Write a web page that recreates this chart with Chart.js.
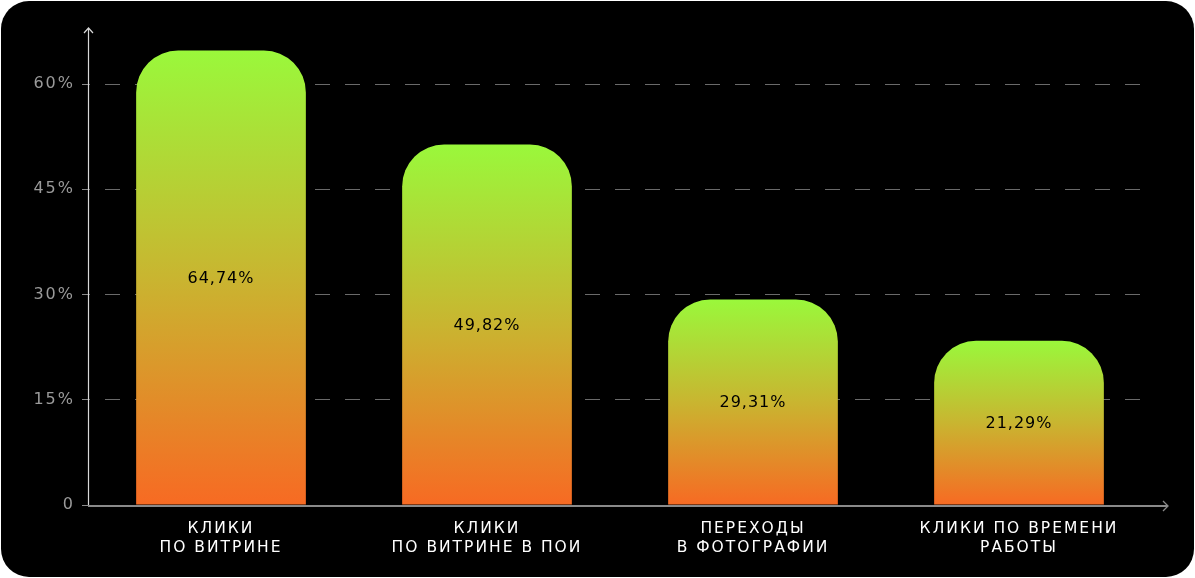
<!DOCTYPE html>
<html><head><meta charset="utf-8">
<script src="https://cdn.jsdelivr.net/npm/chart.js@4/dist/chart.umd.min.js"></script>
<style>html,body{margin:0;padding:0;background:#fff;}#wrap{width:1195px;height:578px;}</style>
</head><body><div id="wrap"><canvas id="c" width="1195" height="578"></canvas></div>
<script>
const categories = [["КЛИКИ","ПО ВИТРИНЕ"],["КЛИКИ","ПО ВИТРИНЕ В ПОИ"],["ПЕРЕХОДЫ","В ФОТОГРАФИИ"],["КЛИКИ ПО ВРЕМЕНИ","РАБОТЫ"]];
// bar heights as drawn in the picture
const values = [64.8, 51.4, 29.3, 23.4];
// value labels as printed on the bars
const valueLabels = ["64,74%", "49,82%", "29,31%", "21,29%"];
const yTicks = [0, 15, 30, 45, 60];
const yMax = 68;

const FONT = "'DejaVu Sans', sans-serif";

const bgPlugin = {
  id: 'bg',
  beforeDraw(chart) {
    const ctx = chart.ctx;
    ctx.save();
    ctx.fillStyle = '#fff';
    ctx.fillRect(0, 0, chart.width, chart.height);
    ctx.fillStyle = '#000';
    ctx.beginPath();
    ctx.roundRect(1, 1, chart.width - 2, chart.height - 2, 28);
    ctx.fill();
    ctx.restore();
    ctx.letterSpacing = '2px';
  }
};

const overlayPlugin = {
  id: 'overlay',
  afterDatasetsDraw(chart) {
    const ctx = chart.ctx;
    const area = chart.chartArea;
    const meta = chart.getDatasetMeta(0);
    ctx.save();
    ctx.letterSpacing = '1px';
    ctx.fillStyle = '#000';
    ctx.font = "16px " + FONT;
    ctx.textAlign = 'center';
    ctx.textBaseline = 'middle';
    meta.data.forEach((bar, i) => {
      ctx.fillText(valueLabels[i], bar.x, (bar.y + bar.base) / 2 + 1);
    });
    // y axis with arrow
    const x0 = area.left + 0.5;
    const yb = chart.scales.y.getPixelForValue(0);
    ctx.strokeStyle = '#d8d8d8';
    ctx.lineWidth = 1.2;
    ctx.beginPath();
    ctx.moveTo(x0, yb);
    ctx.lineTo(x0, area.top);
    ctx.moveTo(x0 - 4.5, area.top + 5);
    ctx.lineTo(x0, area.top);
    ctx.lineTo(x0 + 4.5, area.top + 5);
    ctx.stroke();
    // x axis with arrow
    const xr = area.right + 16;
    const y0 = yb + 1;
    ctx.strokeStyle = '#8a8a8a';
    ctx.lineWidth = 2;
    ctx.beginPath();
    ctx.moveTo(area.left, y0);
    ctx.lineTo(xr, y0);
    ctx.stroke();
    ctx.lineWidth = 1.3;
    ctx.beginPath();
    ctx.moveTo(xr - 5, y0 - 5);
    ctx.lineTo(xr, y0);
    ctx.lineTo(xr - 5, y0 + 5);
    ctx.stroke();
    ctx.restore();
  }
};

function barGradient(c) {
  const chart = c.chart;
  if (!chart.chartArea || c.raw === undefined) return '#c8b22f';
  const ys = chart.scales.y;
  const top = ys.getPixelForValue(c.raw);
  const bottom = ys.getPixelForValue(0);
  const g = chart.ctx.createLinearGradient(0, top, 0, bottom);
  g.addColorStop(0, '#9af83b');
  g.addColorStop(0.5, '#c9b530');
  g.addColorStop(1, '#f76a23');
  return g;
}

new Chart(document.getElementById('c'), {
  type: 'bar',
  data: {
    labels: categories,
    datasets: [{
      data: values,
      backgroundColor: barGradient,
      borderWidth: 0,
      borderSkipped: 'bottom',
      borderRadius: {topLeft: 42, topRight: 42, bottomLeft: 0, bottomRight: 0},
      categoryPercentage: 1,
      barPercentage: 0.638
    }]
  },
  options: {
    responsive: false,
    animation: false,
    devicePixelRatio: 1,
    layout: {padding: {left: 0, top: 28, right: 43, bottom: 0}},
    plugins: {legend: {display: false}, tooltip: {enabled: false}},
    scales: {
      x: {
        grid: {display: false},
        border: {display: false},
        ticks: {
          color: '#ffffff',
          font: {family: FONT, size: 15.5, lineHeight: 1.22},
          padding: 7,
          maxRotation: 0,
          autoSkip: false
        },
        afterFit(s) { s.height = 73; }
      },
      y: {
        min: 0,
        max: yMax,
        border: {display: false, dash: [15, 15], dashOffset: 13},
        afterBuildTicks(s) { s.ticks = yTicks.map(v => ({value: v})); },
        afterFit(s) { s.width = 88; },
        grid: {
          color: '#6a6a6a',
          lineWidth: 1,
          drawTicks: true,
          tickLength: 6,
          tickColor: '#8a8a8a',
          tickBorderDash: [],
          tickWidth: 1
        },
        ticks: {
          color: '#9a9a9a',
          font: {family: FONT, size: 16},
          padding: 7,
          callback: v => v === 0 ? '0' : v + '%'
        }
      }
    }
  },
  plugins: [bgPlugin, overlayPlugin]
});
</script></body></html>
